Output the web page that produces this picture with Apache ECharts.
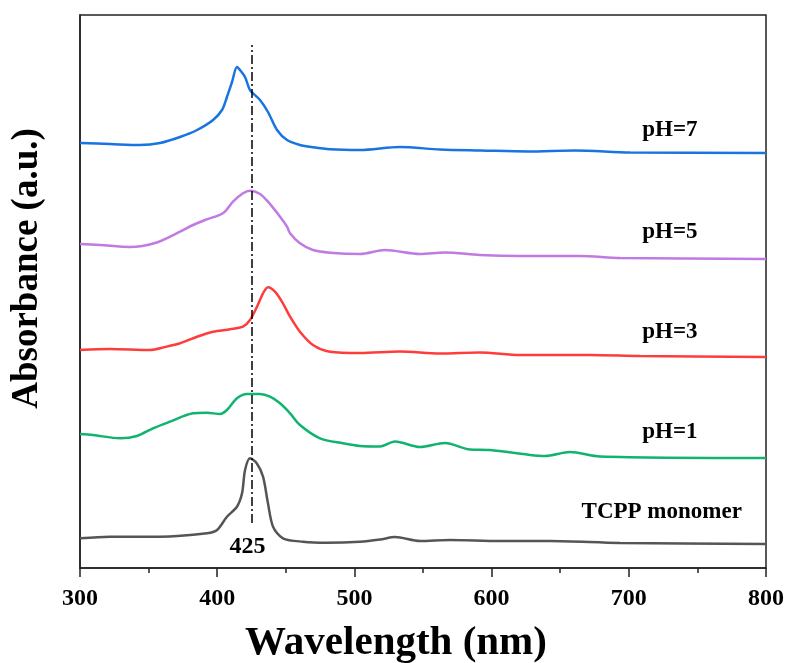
<!DOCTYPE html>
<html>
<head>
<meta charset="utf-8">
<script src="https://cdn.jsdelivr.net/npm/echarts@6/dist/echarts.min.js"></script>
<style>html,body{margin:0;padding:0;background:#fff}#c{width:788px;height:663px}</style>
</head>
<body>
<div id="c"></div>
<script>
// Wavelength (nm) / absorbance (a.u., offset stacked) pairs
const ph7 = [[300,425],[321.9,424],[343.7,423],[358.3,425],[372.9,431],[385.3,438],[397,448],[403.5,458],[407.1,471],[410.8,486],[414.4,501],[416.6,498],[420.3,491],[423.9,478],[431.2,468],[437,456],[443.6,438],[450.9,428],[460.3,423],[469.8,420.7],[482.2,418.7],[504.1,418],[533.2,421],[562.4,418.5],[592.3,417.5],[626.5,416.5],[660.8,417.5],[700.9,415.5],[800,415]];
const ph5 = [[300,324],[314.6,323],[336.4,321],[354.7,325],[372.9,336.3],[382.4,343],[391.1,348],[404.2,354.7],[411.5,366.3],[418.8,374.7],[423.9,377.3],[431.2,374],[437,366.3],[445.8,351.3],[450.9,341.3],[453.1,334.7],[460.3,324.7],[469.8,318],[482.2,315.3],[504.1,314],[522.3,318],[547.8,314],[566,315.5],[591.5,313],[620.7,312],[664.4,312],[693.6,310],[800,309]];
const ph3 = [[300,218],[321.9,219],[351,218],[362,221],[372.9,224.7],[385.3,231.3],[397,236.3],[409.3,238.7],[418.8,241.3],[423.9,248],[429,261.3],[433.4,274.7],[437,280.7],[442.1,276.3],[447.9,264.7],[453.1,251.3],[460.3,236.3],[469.8,223],[482.2,216.3],[504.1,215],[533.2,216.5],[562.4,214.5],[591.5,215.5],[620.7,213],[671.7,213],[708.2,212],[800,211]];
const ph1 = [[300,134],[309.5,133],[329.2,129.7],[341.5,132],[353.2,139.7],[365.6,146.3],[382.4,154.7],[392.6,155.3],[402,154],[407.1,158],[414.4,169.7],[421.7,174],[431.2,174],[438.5,171.3],[445.8,164.7],[453.1,154.7],[460.3,143],[474.9,129.7],[491.7,124.7],[504.1,122],[518.7,121.5],[529.6,126.5],[547.8,121],[566,125],[584.3,118.5],[598.8,118],[628,113],[639,112],[657.1,116],[679,111.5],[800,110]];
const monomer = [[300,29.7],[321.9,31.3],[358.3,31.3],[392.6,34.7],[399.9,38],[407.1,51.3],[414.4,61.3],[418.1,74.7],[420.3,98],[423.9,109.7],[428.8,104.7],[433.4,91.3],[437,64.7],[440.7,41.3],[447.9,29.7],[462.5,26.3],[479.6,25.3],[504.1,26.3],[518.7,28.5],[529.6,31],[547.8,27],[569.6,28],[606,27],[642.5,27],[693.6,25],[800,24]];

const seriesNames = ['pH=7','pH=5','pH=3','pH=1','TCPP monomer'];
const seriesData = [ph7, ph5, ph3, ph1, monomer];
const labelWl = [730, 730, 730, 730, 724];
const labelAbs = [438, 336, 236, 136, 56];
const peakWl = 425;
const peakLineAbs = [45, 523];
const peakLabel = ['425', 422, 21];
const xTicks = [300, 400, 500, 600, 700, 800];

const colors = ['#1874e0', '#c07ae2', '#ff3c3c', '#10b46e', '#555555'];
const FONT = '"Liberation Serif","Times New Roman",serif';

const series = seriesData.map((d, i) => ({
  name: seriesNames[i],
  type: 'line',
  data: d,
  smooth: 0.3,
  showSymbol: false,
  lineStyle: { color: colors[i], width: 2.5 },
  itemStyle: { color: colors[i] },
  z: 3,
  markPoint: {
    symbol: 'circle', symbolSize: 0, silent: true,
    label: { show: true, position: 'inside', formatter: seriesNames[i], color: '#000',
             fontFamily: FONT, fontWeight: 'bold', fontSize: 23 },
    data: [{ coord: [labelWl[i], labelAbs[i]] }]
  }
}));

// dash-dot reference line at 425 nm with its label
series.push({
  type: 'line', data: [], silent: true,
  markLine: {
    symbol: ['none', 'none'], silent: true, label: { show: false },
    lineStyle: { color: '#000', width: 1.5, type: [9, 3, 2, 3] },
    data: [[{ coord: [peakWl, peakLineAbs[0]] }, { coord: [peakWl, peakLineAbs[1]] }]]
  },
  markPoint: {
    symbol: 'circle', symbolSize: 0, silent: true,
    label: { show: true, position: 'inside', formatter: peakLabel[0], color: '#000',
             fontFamily: FONT, fontWeight: 'bold', fontSize: 24 },
    data: [{ coord: [peakLabel[1], peakLabel[2]] }]
  }
});

const chart = echarts.init(document.getElementById('c'), null, { renderer: 'canvas' });
chart.setOption({
  animation: false,
  backgroundColor: '#fff',
  grid: { left: 80, right: 22, top: 15, bottom: 95, show: true, borderColor: '#222', borderWidth: 1.5,
          containLabel: false, outerBoundsMode: 'none' },
  xAxis: {
    type: 'value', min: xTicks[0], max: xTicks[xTicks.length - 1], interval: 100,
    name: 'Wavelength (nm)', nameLocation: 'middle', nameGap: 55,
    nameTextStyle: { fontFamily: FONT, fontWeight: 'bold', fontSize: 41, color: '#000', padding: [0, 54, 0, 0] },
    axisLine: { show: true, lineStyle: { color: '#222', width: 1.5 } },
    axisTick: { show: true, inside: false, length: 9, lineStyle: { color: '#222', width: 1.5 } },
    minorTick: { show: true, splitNumber: 2, length: 5, lineStyle: { color: '#222', width: 1.5 } },
    axisLabel: { margin: 19, fontFamily: FONT, fontWeight: 'bold', fontSize: 24, color: '#000' },
    splitLine: { show: false }
  },
  yAxis: {
    type: 'value', min: 0, max: 553,
    name: 'Absorbance (a.u.)', nameLocation: 'middle', nameGap: 34,
    nameTextStyle: { fontFamily: FONT, fontWeight: 'bold', fontSize: 37, color: '#000', padding: [0, 0, 0, 46] },
    axisLine: { show: true, lineStyle: { color: '#222', width: 1.5 } },
    axisTick: { show: false }, axisLabel: { show: false }, splitLine: { show: false }
  },
  series: series
});
</script>
</body>
</html>
